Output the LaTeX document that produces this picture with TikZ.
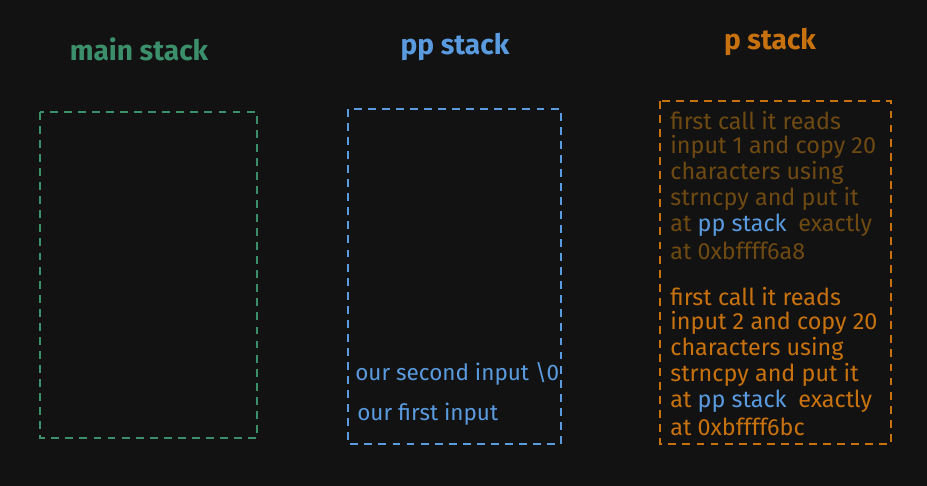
\documentclass[tikz,border=0pt]{standalone}
\usepackage{fontspec}
\setmainfont{Fira Sans}
\usetikzlibrary{positioning}
\definecolor{bgc}{HTML}{121212}
\definecolor{mainc}{HTML}{3B8F6B}
\definecolor{ppc}{HTML}{5A9BE0}
\definecolor{pc}{HTML}{C8720F}
\definecolor{pdim}{HTML}{6E4A12}
\tikzset{
  title/.style={font=\fontsize{16}{19}\selectfont\bfseries, inner sep=0pt},
  stackbox/.style={dash pattern=on 4.5pt off 3.5pt, line width=0.8pt},
  note/.style={anchor=west, inner sep=0pt, font=\fontsize{13.3}{16}\selectfont},
}

\begin{document}
\begin{tikzpicture}[x=0.02cm, y=-0.02cm]
  \fill[bgc] (0,0) rectangle (927,486);
  \useasboundingbox (0,0) rectangle (927,486);
  \node[title, text=mainc] (maintitle) at (139,49) {main stack};
  \node[title, text=ppc] (pptitle) at (455,47) {pp stack};
  \node[title, text=pc] (ptitle) at (770,42) {p stack};
  \draw[stackbox, mainc] (40,112) rectangle (257,438);
  \draw[stackbox, ppc] (348,109) rectangle (561,444);
  \draw[stackbox, pc] (660,101) rectangle (891,444);
  \node[note, text=ppc, font=\fontsize{12.8}{15}\selectfont] (secondin) at (355,374) {our second input \textbackslash0};
  \node[note, text=ppc, font=\fontsize{12.8}{15}\selectfont] (firstin) at (357,414) {our first input};
  \foreach \txt [count=\i from 0] in {first call it reads, input 1 and copy 20,
      characters using, strncpy and put it,
      {at \textcolor{ppc}{pp stack}\enspace exactly}, at 0xbffff6a8}
    \node[note, text=pdim] (rone\i) at (670,{121+26*\i}) {\txt};
  \foreach \txt [count=\i from 0] in {first call it reads, input 2 and copy 20,
      characters using, strncpy and put it,
      {at \textcolor{ppc}{pp stack}\enspace exactly}, at 0xbffff6bc}
    \node[note, text=pc] (rtwo\i) at (670,{297+26*\i}) {\txt};
\end{tikzpicture}
\end{document}
